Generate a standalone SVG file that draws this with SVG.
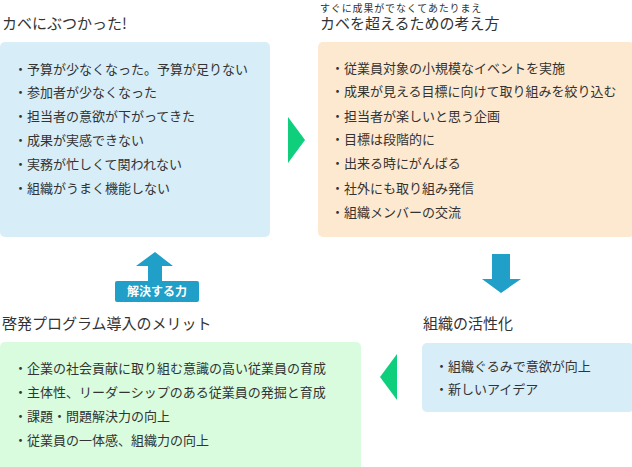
<svg xmlns="http://www.w3.org/2000/svg" width="632" height="467" viewBox="0 0 632 467">
<style>
text{font-family:"Noto Sans CJK JP","Noto Sans",sans-serif;fill:#333}
.t{font-size:15px}
.i{font-size:13px}
.s{font-size:10px;letter-spacing:0.85px}
.lbl{font-size:12px;font-weight:bold;fill:#fff}
.ga{fill:#0fcf7d}
.ba{fill:#209fc8}
</style>
<g id="node-kabe">
<text class="t" x="2" y="29">カベにぶつかった!</text>
<rect x="0" y="42" width="270" height="195" rx="5" fill="#d7edf8"/>
<text class="i" x="14" y="74">・予算が少なくなった。予算が足りない</text>
<text class="i" x="14" y="97">・参加者が少なくなった</text>
<text class="i" x="14" y="121">・担当者の意欲が下がってきた</text>
<text class="i" x="14" y="145">・成果が実感できない</text>
<text class="i" x="14" y="169">・実務が忙しくて関われない</text>
<text class="i" x="14" y="193">・組織がうまく機能しない</text>
</g>
<g id="node-kangaekata">
<text class="s" x="320" y="11.5">すぐに成果がでなくてあたりまえ</text>
<text class="t" x="320" y="29">カベを超えるための考え方</text>
<rect x="318" y="42" width="316" height="195" rx="5" fill="#fde9cf"/>
<text class="i" x="331" y="73">・従業員対象の小規模なイベントを実施</text>
<text class="i" x="331" y="96">・成果が見える目標に向けて取り組みを絞り込む</text>
<text class="i" x="331" y="121">・担当者が楽しいと思う企画</text>
<text class="i" x="331" y="144">・目標は段階的に</text>
<text class="i" x="331" y="168">・出来る時にがんばる</text>
<text class="i" x="331" y="193">・社外にも取り組み発信</text>
<text class="i" x="331" y="217">・組織メンバーの交流</text>
</g>
<g id="node-kasseika">
<text class="t" x="423" y="329">組織の活性化</text>
<rect x="422" y="343" width="212" height="69" rx="5" fill="#d7edf8"/>
<text class="i" x="435" y="371">・組織ぐるみで意欲が向上</text>
<text class="i" x="435" y="394">・新しいアイデア</text>
</g>
<g id="node-merit">
<text class="t" x="2" y="329">啓発プログラム導入のメリット</text>
<rect x="0" y="342" width="361" height="130" rx="5" fill="#d8fcdd"/>
<text class="i" x="14" y="373">・企業の社会貢献に取り組む意識の高い従業員の育成</text>
<text class="i" x="14" y="397">・主体性、リーダーシップのある従業員の発掘と育成</text>
<text class="i" x="14" y="421">・課題・問題解決力の向上</text>
<text class="i" x="14" y="445">・従業員の一体感、組織力の向上</text>
</g>
<g id="connectors">
<polygon class="ga" points="288,117 305,140 288,163"/>
<polygon class="ba" points="492,254 510,254 510,279 521,279 501,293 482,279 492,279"/>
<polygon class="ga" points="397,354 380,377 397,400"/>
<polygon class="ba" points="155,252 173,266 162,266 162,284 148,284 148,266 136,266"/>
<rect class="ba" x="115" y="281" width="84" height="21" rx="2"/>
<text class="lbl" x="157" y="296" text-anchor="middle">解決する力</text>
</g>
</svg>
